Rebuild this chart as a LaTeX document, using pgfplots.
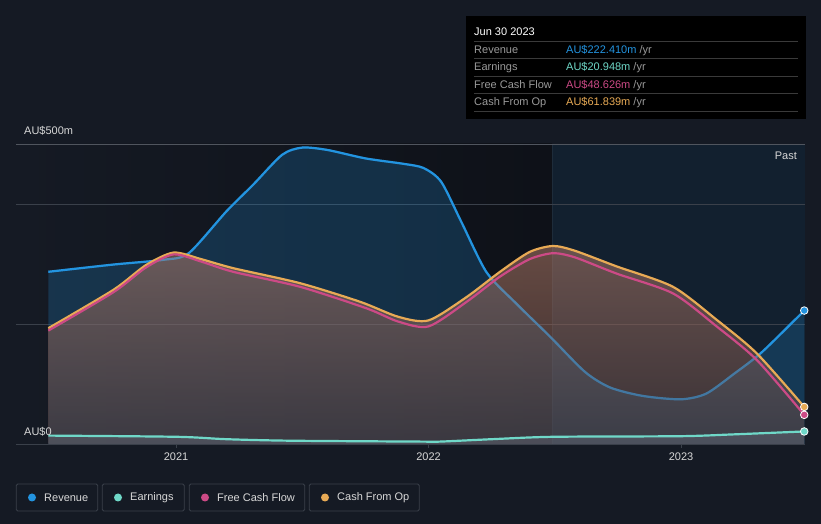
\documentclass[border=0pt]{standalone}
\usepackage{fontspec}
\setmainfont{Liberation Sans}
\usepackage{pgfplots}
\pgfplotsset{compat=1.18}
\definecolor{bg}{HTML}{151A24}
\definecolor{bgdark}{HTML}{0E1118}
\definecolor{pastc}{HTML}{12202F}
\definecolor{pastline}{HTML}{1E2C3A}
\definecolor{gridc}{HTML}{3A404A}
\definecolor{topgrid}{HTML}{50555E}
\definecolor{revc}{HTML}{2394E0}
\definecolor{earnc}{HTML}{6FD8C8}
\definecolor{earnfill}{HTML}{6E7887}
\definecolor{fcfc}{HTML}{CC4A86}
\definecolor{cfoc}{HTML}{E8AA55}
\definecolor{cashtop}{HTML}{B07B68}
\definecolor{cashbot}{HTML}{5A403C}
\definecolor{txtc}{HTML}{D8D8D8}
\definecolor{lblc}{HTML}{9A9A9A}
\definecolor{tipline}{HTML}{3A3A3A}
\definecolor{legbox}{HTML}{3A404A}

\pgfplotstableread{
x y
2020.494 287
2020.750 299
2020.950 307
2021.050 318
2021.200 388
2021.305 432
2021.420 482
2021.500 494
2021.600 490
2021.750 476
2021.900 467
2021.980 460
2022.050 437
2022.130 370
2022.230 286
2022.350 233
2022.481 179
2022.620 120
2022.720 94
2022.850 80
2023.000 74.5
2023.100 84
2023.210 117
2023.320 153
2023.488 222.4
}\revtab

\pgfplotstableread{
x y
2020.494 193
2020.752 257
2020.880 298
2020.990 319
2021.100 308
2021.227 293
2021.491 268
2021.729 237
2021.880 212
2022.000 206
2022.151 245
2022.283 287
2022.400 320
2022.493 330
2022.580 322
2022.745 296
2022.968 262
2023.141 207
2023.300 151
2023.488 61.8
}\cfotab

\pgfplotstableread{
x y
2020.494 189
2020.752 253
2020.880 294
2020.990 316
2021.100 304
2021.226 287
2021.491 262
2021.755 226
2021.880 204
2022.000 196
2022.151 237
2022.283 279
2022.400 308
2022.493 318
2022.580 311
2022.745 284
2022.968 251
2023.141 196
2023.300 140
2023.488 48.6
}\fcftab

\pgfplotstableread{
x y
2020.494 14
2021.003 12
2021.200 8
2021.450 5.5
2021.966 4
2022.046 4
2022.250 8
2022.493 12
2022.996 13
2023.206 16
2023.488 20.9
}\earntab

\begin{document}
\fontsize{11bp}{13bp}\selectfont
\begin{tikzpicture}
\fill[bg] (0,0) rectangle (821bp,524bp);
\begin{axis}[
  at={(16bp,80bp)}, anchor=south west,
  width=789bp, height=300bp, scale only axis,
  xmin=2020.366, xmax=2023.491, ymin=0, ymax=500,
  axis line style={draw=none},
  ytick=\empty,
  xtick={2021,2022,2023},
  xticklabels={2021,2022,2023},
  xtick pos=bottom, tick align=outside,
  major tick length=4bp,
  x tick style={gridc, line width=0.8bp},
  xticklabel style={font=\fontsize{11bp}{13bp}\selectfont, text=txtc, yshift=-1bp},
  clip=false,
]
% background regions
\fill[left color=bg, right color=bgdark] (axis cs:2020.366,0) rectangle (axis cs:2022.489,500);
\fill[pastc] (axis cs:2022.489,0) rectangle (axis cs:2023.491,500);
\draw[pastline, line width=0.8bp] (axis cs:2022.489,0) -- (axis cs:2022.489,500);
% grid
\draw[gridc, line width=0.8bp] (axis cs:2020.366,200) -- (axis cs:2023.491,200);
\draw[gridc, line width=0.8bp] (axis cs:2020.366,400) -- (axis cs:2023.491,400);
\draw[topgrid, line width=0.8bp] (axis cs:2020.366,500) -- (axis cs:2023.491,500);
\draw[gridc, line width=0.8bp] (axis cs:2020.366,0) -- (axis cs:2023.491,0);

% revenue
\addplot[draw=none, fill=revc, fill opacity=0.22, smooth, tension=0.45] table[x=x,y=y]{\revtab} \closedcycle;
\addplot[revc, line width=2.2bp, smooth, tension=0.45] table[x=x,y=y]{\revtab};
% cash fill
\addplot[draw=none, top color=cashtop, bottom color=cashbot, fill opacity=0.55, smooth, tension=0.45] table[x=x,y=y]{\cfotab} \closedcycle;
\addplot[revc, line width=2.2bp, opacity=0.25, smooth, tension=0.45] table[x=x,y=y]{\revtab};
% cash lines
\addplot[cfoc, line width=2.2bp, smooth, tension=0.45] table[x=x,y=y]{\cfotab};
\addplot[fcfc, line width=2.2bp, smooth, tension=0.45] table[x=x,y=y]{\fcftab};
% earnings
\addplot[draw=none, fill=earnfill, fill opacity=0.35, smooth, tension=0.45] table[x=x,y=y]{\earntab} \closedcycle;
\addplot[earnc, line width=2.2bp, smooth, tension=0.45] table[x=x,y=y]{\earntab};
% end markers
\addplot[only marks, mark=*, mark size=3.8bp, mark options={fill=revc, draw=white, line width=0.8bp}] coordinates {(2023.488,222.4)};
\addplot[only marks, mark=*, mark size=3.8bp, mark options={fill=cfoc, draw=white, line width=0.8bp}] coordinates {(2023.488,61.8)};
\addplot[only marks, mark=*, mark size=3.8bp, mark options={fill=fcfc, draw=white, line width=0.8bp}] coordinates {(2023.488,48.6)};
\addplot[only marks, mark=*, mark size=3.8bp, mark options={fill=earnc, draw=white, line width=0.8bp}] coordinates {(2023.488,20.9)};
\end{axis}

% y labels
\node[anchor=west, text=txtc, inner sep=0pt] at (24bp,393bp) {AU\$500m};
\node[anchor=west, text=txtc, inner sep=0pt] at (24bp,92bp) {AU\$0};
\node[anchor=east, text=txtc, inner sep=0pt] at (797bp,368bp) {Past};

% tooltip
\fill[black] (466bp,405bp) rectangle (806bp,508bp);
\node[anchor=base west, text=white, inner sep=0pt] at (474bp,488bp) {Jun 30 2023};
\foreach \yy in {482.7,465.7,447.7,430.7,413} {
  \draw[tipline, line width=0.8bp] (474bp,\yy bp) -- (798bp,\yy bp);
}
\node[anchor=base west, text=lblc, inner sep=0pt] at (474bp,470.5bp) {Revenue};
\node[anchor=base west, text=lblc, inner sep=0pt] at (474bp,453.5bp) {Earnings};
\node[anchor=base west, text=lblc, inner sep=0pt] at (474bp,435.5bp) {Free Cash Flow};
\node[anchor=base west, text=lblc, inner sep=0pt] at (474bp,418.5bp) {Cash From Op};
\node[anchor=base west, inner sep=0pt] at (566bp,470.5bp) {\textcolor{revc}{AU\$222.410m} \textcolor{lblc}{/yr}};
\node[anchor=base west, inner sep=0pt] at (566bp,453.5bp) {\textcolor{earnc}{AU\$20.948m} \textcolor{lblc}{/yr}};
\node[anchor=base west, inner sep=0pt] at (566bp,435.5bp) {\textcolor{fcfc}{AU\$48.626m} \textcolor{lblc}{/yr}};
\node[anchor=base west, inner sep=0pt] at (566bp,418.5bp) {\textcolor{cfoc}{AU\$61.839m} \textcolor{lblc}{/yr}};

% legend
\draw[legbox, line width=0.8bp, rounded corners=1.5bp] (16.3bp,13bp) rectangle (97.7bp,40bp);
\draw[legbox, line width=0.8bp, rounded corners=1.5bp] (102.3bp,13bp) rectangle (184.3bp,40bp);
\draw[legbox, line width=0.8bp, rounded corners=1.5bp] (189.3bp,13bp) rectangle (304.7bp,40bp);
\draw[legbox, line width=0.8bp, rounded corners=1.5bp] (309.3bp,13bp) rectangle (419.3bp,40bp);
\fill[revc] (32bp,26.5bp) circle (4bp);
\fill[earnc] (118bp,26.5bp) circle (4bp);
\fill[fcfc] (205bp,26.5bp) circle (4bp);
\fill[cfoc] (325bp,26.5bp) circle (4bp);
\node[anchor=west, text=txtc, inner sep=0pt] at (44bp,26.5bp) {Revenue};
\node[anchor=west, text=txtc, inner sep=0pt] at (130bp,26.5bp) {Earnings};
\node[anchor=west, text=txtc, inner sep=0pt] at (217bp,26.5bp) {Free Cash Flow};
\node[anchor=west, text=txtc, inner sep=0pt] at (337bp,26.5bp) {Cash From Op};

\pgfresetboundingbox
\useasboundingbox (0,0) rectangle (821bp,524bp);
\end{tikzpicture}
\end{document}
